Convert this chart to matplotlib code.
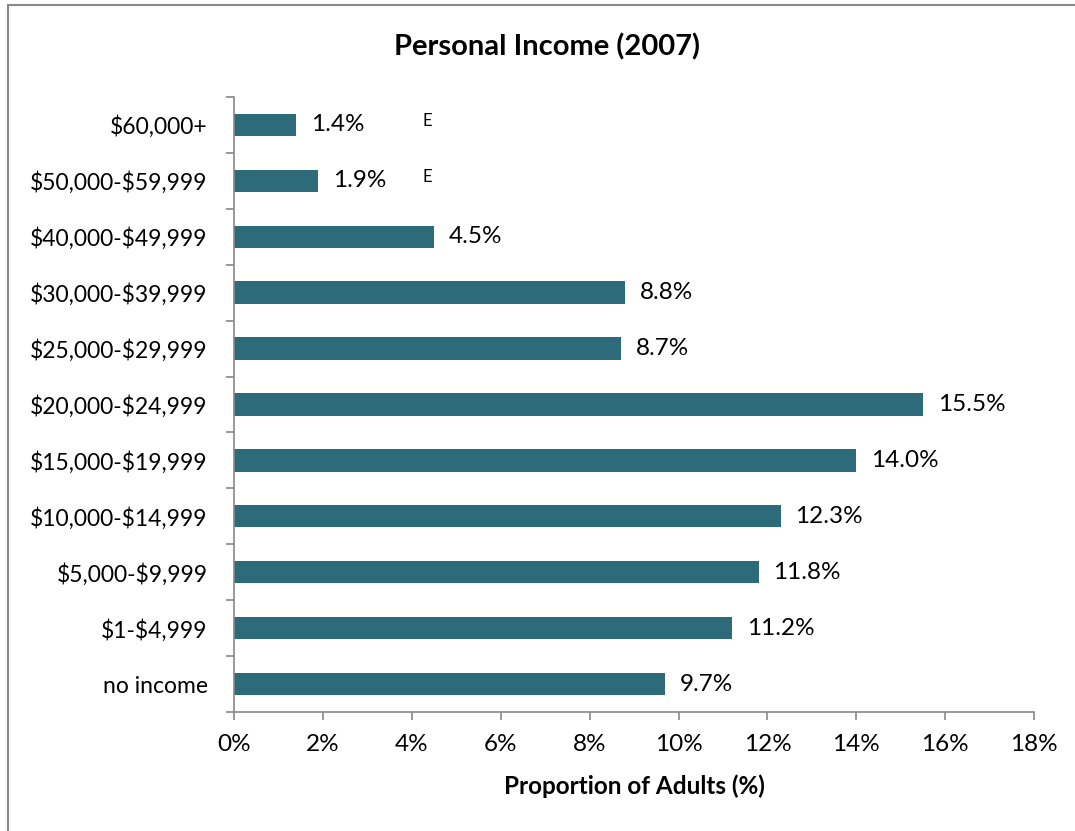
import matplotlib.pyplot as plt
from matplotlib.patches import Rectangle
from matplotlib.ticker import MultipleLocator, FuncFormatter, FixedLocator

plt.rcParams['font.family'] = ['Lato', 'DejaVu Sans']
plt.rcParams['text.parse_math'] = False  # labels contain "$"

# income brackets, bottom to top
categories = ['no income', '$1-$4,999', '$5,000-$9,999', '$10,000-$14,999',
              '$15,000-$19,999', '$20,000-$24,999', '$25,000-$29,999',
              '$30,000-$39,999', '$40,000-$49,999', '$50,000-$59,999', '$60,000+']
values = [9.7, 11.2, 11.8, 12.3, 14.0, 15.5, 8.7, 8.8, 4.5, 1.9, 1.4]
# estimates flagged with "E" (use with caution)
flagged = ['$50,000-$59,999', '$60,000+']

fig = plt.figure(figsize=(10.75, 8.31), dpi=100)
ax = fig.add_axes([0.2177, 0.1432, 0.7443, 0.7401])

pos = list(range(len(categories)))
ax.barh(pos, values, height=0.4, color='#2d6b7b')

for p, v, c in zip(pos, values, categories):
    ax.text(v + 0.33, p, f'{v:.1f}%', va='center', ha='left', fontsize=17.5)
    if c in flagged:
        ax.text(4.35, p + 0.07, 'E', va='center', ha='center', fontsize=12)

ax.set_xlim(0, 18)
ax.set_ylim(-0.5, len(categories) - 0.5)
ax.xaxis.set_major_locator(MultipleLocator(2))
ax.xaxis.set_major_formatter(FuncFormatter(lambda x, _: f'{x:.0f}%'))

# category labels at bar centres, ticks between them
ax.set_yticks(pos)
ax.set_yticklabels(categories, fontsize=16.5)
ax.yaxis.set_minor_locator(FixedLocator([p - 0.5 for p in pos] + [len(pos) - 0.5]))
ax.tick_params(axis='y', which='major', length=0, pad=19)
ax.tick_params(axis='y', which='minor', length=6, color='#888888', width=1.2)
ax.tick_params(axis='x', length=6, color='#888888', width=1.2, labelsize=17.5, pad=10)

for s in ['top', 'right']:
    ax.spines[s].set_visible(False)
for s in ['left', 'bottom']:
    ax.spines[s].set_color('#888888')
    ax.spines[s].set_linewidth(1.2)

fig.text(547 / 1075, 1 - 47 / 831, 'Personal Income (2007)', fontsize=21,
         fontweight='bold', ha='center', va='center')
ax.set_xlabel('Proportion of Adults (%)', fontsize=17.5, fontweight='bold', labelpad=14)

# chart frame
fig.patches.append(Rectangle((8 / 1075, -0.1), 1.2, 1.1 - 5 / 831, transform=fig.transFigure,
                             fill=False, edgecolor='#888888', linewidth=1.5))

fig.savefig('out.png', dpi=100)
